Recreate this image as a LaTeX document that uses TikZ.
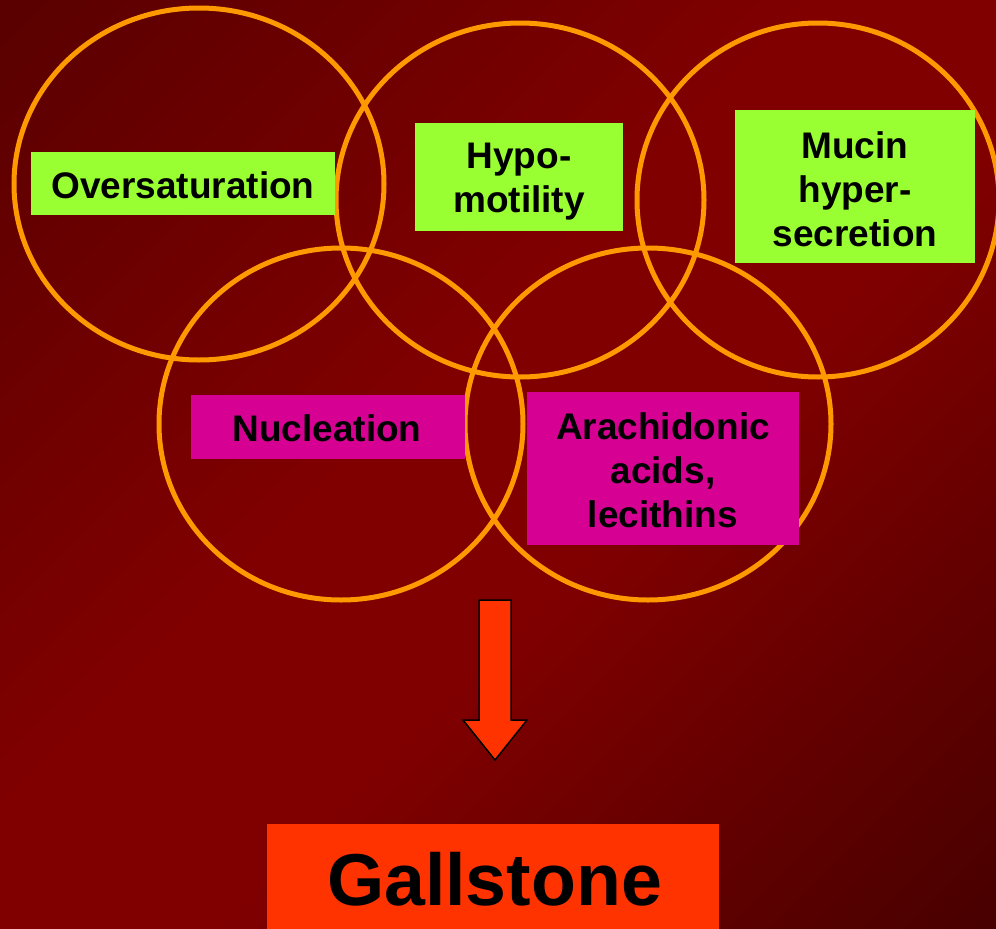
\documentclass[tikz,border=0pt]{standalone}
\usepackage{fontspec}
\setmainfont{Liberation Sans}
\definecolor{ring}{HTML}{FF9900}
\definecolor{lime}{HTML}{99FF33}
\definecolor{mag}{HTML}{D60093}
\definecolor{flame}{HTML}{FF3300}
\tikzset{
  ring/.style={draw=ring, line width=5pt},
  greenbox/.style={fill=lime, inner sep=0pt},
  pinkbox/.style={fill=mag, inner sep=0pt},
  label37/.style={inner sep=0pt, align=center,
    font=\fontsize{37}{44}\selectfont\bfseries},
  bigbox/.style={fill=flame, inner sep=0pt},
  biglabel/.style={inner sep=0pt, font=\fontsize{73.5}{80}\selectfont\bfseries},
  blockarrow/.style={fill=flame, draw=black, line width=1.5pt, line join=miter},
}
\begin{document}
\begin{tikzpicture}[x=1pt,y=-1pt]
\useasboundingbox (0,0) rectangle (996,929);
\begin{scope}
\clip (0,0) rectangle (996,929);
\foreach \s in {0,8,...,1928}{
  \pgfmathtruncatemacro{\rr}{\s<800 ? 90+(\s/800)*38 : (\s<1150 ? 128 : 128-((\s-1150)/775)*56)}
  \definecolor{bandc}{RGB}{\rr,0,0}
  \fill[bandc] (\s,0) -- (\s+9,0) -- (\s+9-1000,1000) -- (\s-1000,1000) -- cycle;
}
\draw[ring] (199,184) ellipse [x radius=185, y radius=176];
\draw[ring] (520,200) ellipse [x radius=184, y radius=177];
\draw[ring] (818,200) ellipse [x radius=181, y radius=177];
\draw[ring] (341,424) ellipse [x radius=182, y radius=176];
\draw[ring] (648,424) ellipse [x radius=183, y radius=176];
\end{scope}
\node[greenbox, minimum width=304, minimum height=63] (over) at (183,183.5) {};
\node[label37] (overT) at (183,185.5) {Oversaturation};
\node[greenbox, minimum width=208, minimum height=108] (hypo) at (519,177) {};
\node[label37] (hypoT) at (519,182) {Hypo-\\motility};
\node[greenbox, minimum width=240, minimum height=153] (mucin) at (855,186.5) {};
\node[label37] (mucinT) at (855,189.5) {Mucin\\hyper-\\secretion};
\node[pinkbox, minimum width=274, minimum height=64] (nucl) at (328,427) {};
\node[label37] (nuclT) at (327,428) {Nucleation};
\node[pinkbox, minimum width=272, minimum height=153] (arach) at (663,468.5) {};
\node[label37] (arachT) at (663,470) {Arachidonic\\acids,\\lecithins};
\node[bigbox, minimum width=452, minimum height=105] (gall) at (493,876.5) {};
\node[biglabel] (gallT) at (494.5,879.5) {Gallstone};
\draw[blockarrow] (479,600) -- (511,600) -- (511,720) -- (527,720) -- (495,760) -- (463,720) -- (479,720) -- cycle;
\end{tikzpicture}
\end{document}
